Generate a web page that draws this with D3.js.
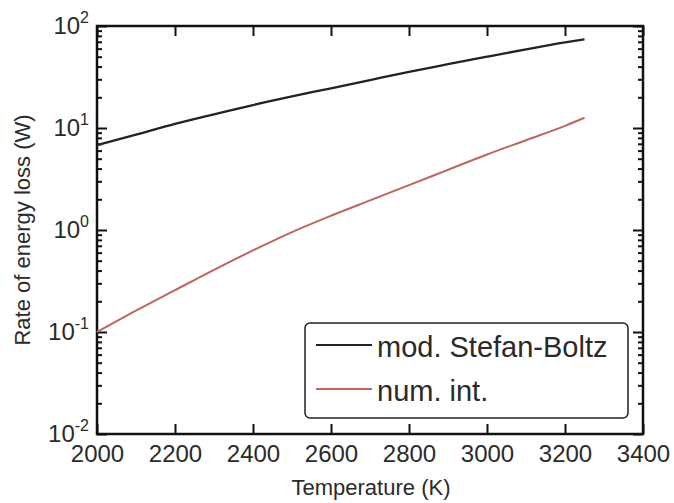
<!DOCTYPE html>
<html>
<head>
<meta charset="utf-8">
<script src="https://cdn.jsdelivr.net/npm/d3@7"></script>
<style>
  body { margin: 0; background: #fff; overflow: hidden; }
  svg { display: block; }
  svg text { font-family: "Liberation Sans", Arial, sans-serif; fill: #2a2a2a; }
</style>
</head>
<body>
<div id="chart"></div>
<script>
// Temperature (K)
const temps = [2000, 2100, 2200, 2300, 2400, 2500, 2600, 2700, 2800, 2900, 3000, 3100, 3200, 3250];
// Rate of energy loss (W)
const stefanBoltz = [6.8, 8.6, 11.0, 13.6, 16.8, 20.4, 24.5, 29.5, 35.5, 42.2, 50, 59, 69, 74];
const numInt = [0.100, 0.162, 0.257, 0.407, 0.631, 0.955, 1.38, 1.95, 2.75, 3.89, 5.50, 7.59, 10.5, 12.6];

const seriesNames = ["mod. Stefan-Boltz", "num. int."];
const seriesColors = ["#222222", "#c0655b"];
const xTicks = [2000, 2200, 2400, 2600, 2800, 3000, 3200, 3400];
const yDecades = [-2, -1, 0, 1, 2];

const width = 674, height = 503;
const margin = { top: 26, right: 31, bottom: 69, left: 97 };
const innerWidth = width - margin.left - margin.right;
const innerHeight = height - margin.top - margin.bottom;

const svg = d3.select("#chart").append("svg")
    .attr("width", width)
    .attr("height", height);

const plot = svg.append("g")
    .attr("transform", `translate(${margin.left},${margin.top})`);

const x = d3.scaleLinear().domain([2000, 3400]).range([0, innerWidth]);
const y = d3.scaleLog().domain([0.01, 100]).range([innerHeight, 0]);

// minor ticks at 2..9 x each decade
const minor = [];
yDecades.slice(0, -1).forEach(d => {
    for (let k = 2; k <= 9; k++) minor.push(k * Math.pow(10, d));
});
const major = yDecades.map(d => Math.pow(10, d));

// x axes (bottom with labels, top without), ticks pointing inward
plot.append("g")
    .attr("class", "x axis")
    .attr("transform", `translate(0,${innerHeight})`)
    .call(d3.axisBottom(x).tickValues(xTicks).tickSize(-10).tickPadding(11).tickFormat(d3.format("d")))
    .call(g => g.selectAll("text").attr("font-size", 24));

plot.append("g")
    .attr("class", "bare")
    .call(d3.axisTop(x).tickValues(xTicks).tickSize(-10));

// y axes: majors and minors, left and right
plot.append("g").attr("class", "bare")
    .call(d3.axisLeft(y).tickValues(major).tickSize(-10));
plot.append("g").attr("class", "bare")
    .call(d3.axisLeft(y).tickValues(minor).tickSize(-5));
plot.append("g").attr("class", "bare")
    .attr("transform", `translate(${innerWidth},0)`)
    .call(d3.axisRight(y).tickValues(major).tickSize(-10));
plot.append("g").attr("class", "bare")
    .attr("transform", `translate(${innerWidth},0)`)
    .call(d3.axisRight(y).tickValues(minor).tickSize(-5));

plot.selectAll(".bare text").remove();
plot.selectAll(".domain").remove();
plot.selectAll(".tick line").attr("stroke", "#111").attr("stroke-width", 2);
plot.selectAll(".tick text").attr("fill", "#2a2a2a");

// frame
plot.append("rect")
    .attr("width", innerWidth)
    .attr("height", innerHeight)
    .attr("fill", "none")
    .attr("stroke", "#111")
    .attr("stroke-width", 2.5);

// y tick labels as 10^n
yDecades.forEach(d => {
    const t = plot.append("text")
        .attr("x", -8)
        .attr("y", y(Math.pow(10, d)) + 8)
        .attr("text-anchor", "end")
        .attr("font-size", 24);
    t.append("tspan").text("10");
    t.append("tspan").attr("dy", -11).attr("font-size", 16).text(d);
});

// lines
const line = d3.line()
    .x((d, i) => x(temps[i]))
    .y(d => y(d))
    .curve(d3.curveMonotoneX);

[stefanBoltz, numInt].forEach((vals, i) => {
    plot.append("path")
        .datum(vals)
        .attr("fill", "none")
        .attr("stroke", seriesColors[i])
        .attr("stroke-width", i === 0 ? 2.3 : 2)
        .attr("d", line);
});

// legend
const legend = svg.append("g").attr("transform", "translate(305,323)");
legend.append("rect")
    .attr("width", 323)
    .attr("height", 95)
    .attr("rx", 5)
    .attr("fill", "#fff")
    .attr("stroke", "#222")
    .attr("stroke-width", 1.5);

seriesNames.forEach((name, i) => {
    const row = legend.append("g").attr("transform", `translate(0,${22 + i * 44})`);
    row.append("line")
        .attr("x1", 11).attr("x2", 67)
        .attr("stroke", seriesColors[i])
        .attr("stroke-width", 2);
    row.append("text")
        .attr("x", 72)
        .attr("y", 12)
        .attr("font-size", 29)
        .text(name);
});

// axis titles
svg.append("text")
    .attr("x", 371)
    .attr("y", 495)
    .attr("text-anchor", "middle")
    .attr("font-size", 22)
    .text("Temperature (K)");

svg.append("text")
    .attr("transform", `translate(30,230) rotate(-90)`)
    .attr("text-anchor", "middle")
    .attr("font-size", 22)
    .text("Rate of energy loss (W)");
</script>
</body>
</html>
